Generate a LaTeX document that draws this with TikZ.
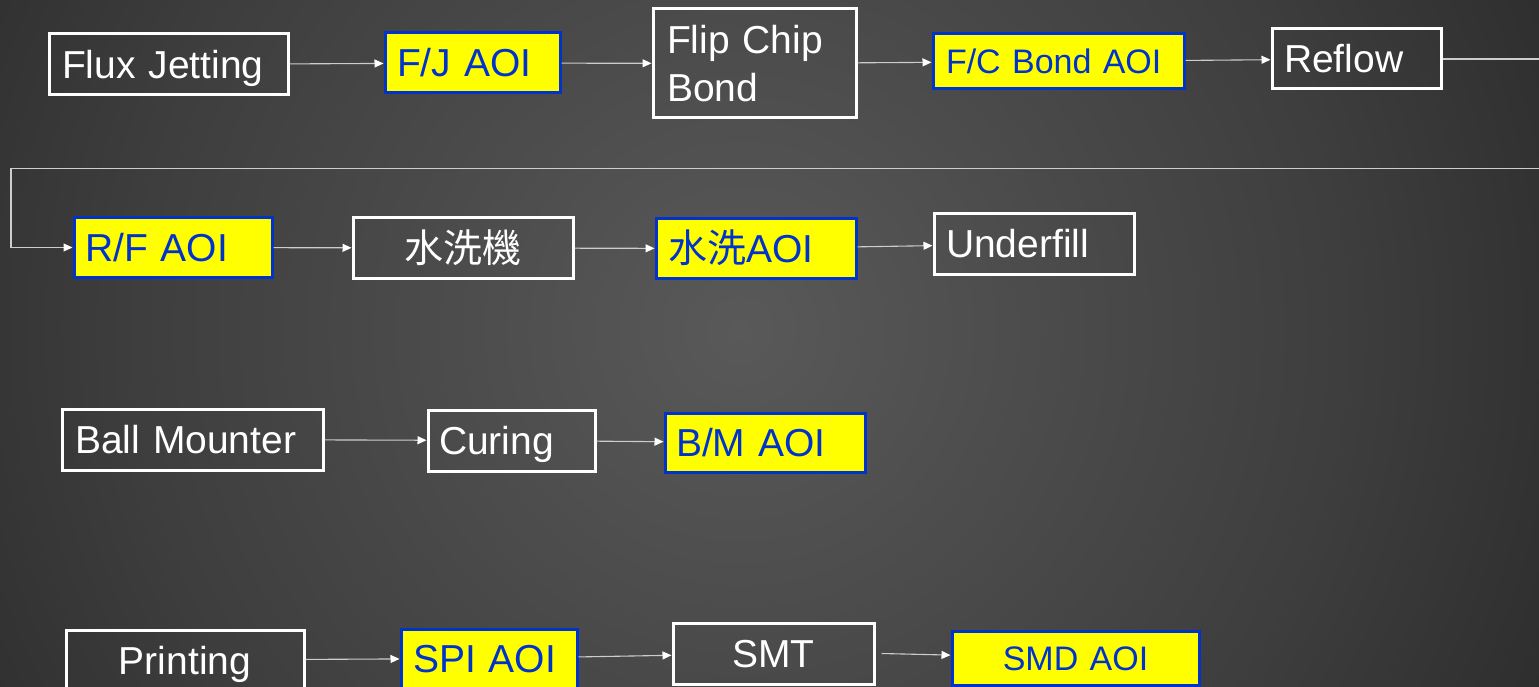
\documentclass[tikz,border=0pt]{standalone}
\usepackage{fontspec}
\setmainfont{Liberation Sans}
\newfontfamily\cjkfont{Noto Sans CJK TC}
\usetikzlibrary{arrows.meta}
\definecolor{bgin}{RGB}{89,89,89}
\definecolor{bgmid}{RGB}{62,62,62}
\definecolor{bgedge}{RGB}{32,32,32}
\definecolor{bgout}{RGB}{26,26,26}
\definecolor{aoiblue}{RGB}{0,51,204}
\definecolor{aoiyellow}{RGB}{255,255,0}
\definecolor{linegray}{RGB}{205,205,205}
\pgfdeclareradialshading{bgshade}{\pgfpoint{0bp}{0bp}}{color(0bp)=(bgin); color(15bp)=(bgmid); color(28bp)=(bgedge); color(36bp)=(bgout); color(50bp)=(bgout)}
\begin{document}
\begin{tikzpicture}[x=1pt,y=-1pt,
  boxbase/.style={inner ysep=0pt, align=left, font=\fontsize{39}{46.8}\selectfont, text height=28pt, text depth=0pt},
  proc/.style={boxbase, draw=white, line width=3pt, text=white},
  aoi/.style={boxbase, draw=aoiblue, fill=aoiyellow, line width=3pt, text=aoiblue},
  smalltext/.style={font=\fontsize{34}{40.8}\selectfont, text height=24.3pt},
  centred/.style={align=center},
  conn/.style={draw=linegray, line width=1.1pt, -{Triangle[length=9pt,width=8pt,color=white]}},
]
\useasboundingbox (0,0) rectangle (1539,687);
\clip (0,0) rectangle (1539,687);
\fill[bgout] (0,0) rectangle (1539,687);
\shade[shading=bgshade] (740,330) circle (1000);

% row 1
\node[proc, minimum width=239pt, minimum height=61pt, inner xsep=13pt, text width=213pt] (fj) at (168.5,64.5) {Flux Jetting};
\node[aoi, minimum width=175pt, minimum height=60pt, inner xsep=12pt, text width=151pt] (fjaoi) at (472.5,63) {F/J AOI};
\node[proc, minimum width=203pt, minimum height=109pt, inner xsep=14pt, text width=175pt, text depth=48.5pt, font=\fontsize{39}{48.5}\selectfont] (fcb) at (754.5,63.5) {Flip Chip\\Bond};
\node[aoi, smalltext, minimum width=251pt, minimum height=55pt, inner xsep=13pt, text width=225pt] (fcaoi) at (1058.5,61.5) {F/C Bond AOI};
\node[proc, minimum width=169pt, minimum height=60pt, inner xsep=12pt, text width=145pt] (reflow) at (1356.5,59) {Reflow};

% row 2
\node[aoi, minimum width=198pt, minimum height=59pt, inner xsep=11pt, text width=176pt] (rfaoi) at (173,247.5) {R/F AOI};
\node[proc, centred, minimum width=220pt, minimum height=60pt, inner xsep=10pt, text width=200pt] (wash) at (463,248) {\cjkfont 水洗機};
\node[aoi, minimum width=200pt, minimum height=59pt, inner xsep=12pt, text width=176pt] (washaoi) at (756,248.5) {{\cjkfont 水洗}AOI};
\node[proc, minimum width=200pt, minimum height=60pt, inner xsep=12pt, text width=176pt] (underfill) at (1034,244) {Underfill};

% row 3
\node[proc, minimum width=261pt, minimum height=61pt, inner xsep=13pt, text width=235pt] (ball) at (192.5,439.5) {Ball Mounter};
\node[proc, minimum width=167pt, minimum height=61pt, inner xsep=11pt, text width=145pt] (curing) at (511.5,440.5) {Curing};
\node[aoi, minimum width=200pt, minimum height=59pt, inner xsep=11pt, text width=178pt] (bmaoi) at (765,442.5) {B/M AOI};

% row 4
\node[proc, centred, minimum width=238pt, minimum height=60pt, inner xsep=10pt, text width=218pt] (printing) at (185,660) {Printing};
\node[aoi, minimum width=176pt, minimum height=59pt, inner xsep=12pt, text width=152pt] (spiaoi) at (489,658.5) {SPI AOI};
\node[proc, centred, minimum width=201pt, minimum height=61pt, inner xsep=10pt, text width=181pt] (smt) at (773.5,653.5) {SMT};
\node[aoi, smalltext, centred, minimum width=247pt, minimum height=54pt, inner xsep=10pt, text width=227pt] (smdaoi) at (1075.5,658) {SMD AOI};

% wrap-around connector
\coordinate (w1) at (1560,59);
\coordinate (w3) at (11,168.5);

% connectors
\draw[conn] (fj) -- (fjaoi);
\draw[conn] (fjaoi) -- (fcb);
\draw[conn] (fcb) -- (fcaoi);
\draw[conn] (fcaoi) -- (reflow);
\draw[conn] (reflow.east) -- (w1) |- (w3) |- (rfaoi.west);
\draw[conn] (rfaoi) -- (wash);
\draw[conn] (wash) -- (washaoi);
\draw[conn] (washaoi) -- (underfill);
\draw[conn] (ball) -- (curing);
\draw[conn] (curing) -- (bmaoi);
\draw[conn] (printing) -- (spiaoi);
\draw[conn] (spiaoi) -- (smt);
\draw[conn] ([xshift=6pt]smt.east) -- (smdaoi);
\end{tikzpicture}
\end{document}
